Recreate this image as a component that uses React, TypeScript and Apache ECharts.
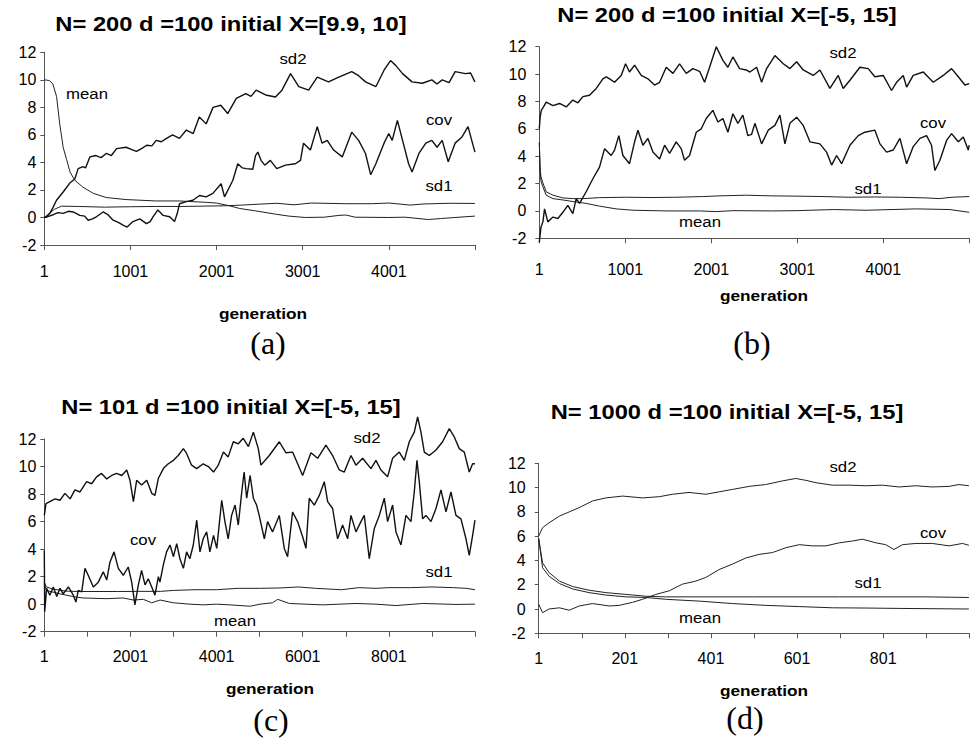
import React, { useEffect, useRef } from "react";
import * as echarts from "echarts";

type Pt = [number, number];

// ---------- Panel (a): N=200, X=[9.9,10], generations 1..5000 ----------
const aMean: Pt[] = [[1,10],[60,9.95],[100,9.7],[143,8.8],[180,6.8],[220,5.1],[260,4.2],[300,3.3],[355,2.7],[450,2.2],[570,1.75],[720,1.45],[950,1.3],[1300,1.2],[1570,1.2],[1880,1.1],[2000,1.05],[2150,0.85],[2270,0.65],[2453,0.48],[2685,0.24],[2840,0.1],[3030,0],[3250,0.02],[3420,0.15],[3500,0.18],[3610,0.02],[4000,0],[4190,0.02],[4460,-0.15],[4600,-0.08],[4770,0],[5000,0.1]];
const aSd1: Pt[] = [[1,0],[60,0.3],[120,0.6],[200,0.82],[400,0.8],[700,0.75],[1000,0.78],[1300,0.8],[1600,0.8],[1900,0.83],[2100,0.85],[2300,0.9],[2500,0.97],[2700,1.03],[2900,0.92],[3100,1.05],[3500,1.0],[3800,1.0],[4000,1.05],[4250,0.9],[4400,0.98],[4700,1.03],[5000,1.02]];
const aSd2: Pt[] = [[1,0],[30,0.05],[66,0.3],[100,0.7],[143,1.25],[220,1.85],[297,2.5],[355,2.8],[394,3.55],[450,3.7],[480,3.6],[530,4.4],[600,4.5],[660,4.35],[720,4.65],[780,4.5],[840,5.0],[950,5.1],[1010,4.95],[1070,4.8],[1130,5.0],[1190,5.25],[1250,5.2],[1300,5.6],[1360,5.5],[1420,5.75],[1490,6.0],[1570,5.75],[1650,6.35],[1730,6.1],[1800,7.3],[1880,6.8],[1960,8.0],[2050,8.15],[2130,7.55],[2230,8.65],[2340,9.0],[2400,8.8],[2460,9.25],[2570,8.9],[2685,8.75],[2760,9.25],[2860,10.45],[2955,9.5],[3070,9.25],[3170,10.2],[3300,9.85],[3420,10.2],[3570,10.6],[3650,10.3],[3730,9.85],[3850,9.5],[3945,10.7],[4020,11.4],[4080,11.05],[4160,10.45],[4270,9.85],[4390,9.75],[4500,10.0],[4560,9.7],[4620,10.0],[4700,9.8],[4770,10.6],[4890,10.45],[4950,10.5],[5000,9.85]];
const aCov: Pt[] = [[1,0],[60,0.1],[104,0.2],[160,0.35],[220,0.3],[280,0.45],[336,0.4],[413,0.15],[470,0.1],[510,-0.2],[560,-0.1],[606,0.05],[684,0.4],[740,0.2],[800,-0.2],[860,-0.35],[915,-0.55],[962,-0.7],[1031,-0.3],[1110,-0.1],[1186,-0.45],[1230,-0.3],[1263,0.05],[1320,0.55],[1380,0.15],[1456,0.05],[1513,-0.3],[1545,0.3],[1571,1.0],[1649,1.15],[1726,1.25],[1803,1.6],[1880,1.5],[1958,1.75],[2054,2.45],[2093,1.5],[2190,2.7],[2247,3.9],[2300,3.6],[2344,3.55],[2421,3.5],[2453,4.5],[2480,4.75],[2517,4.15],[2560,3.8],[2625,4.15],[2700,3.55],[2800,3.8],[2915,3.9],[2975,4.15],[3010,5.4],[3090,4.9],[3170,6.6],[3225,5.4],[3285,5.6],[3360,4.9],[3460,4.4],[3570,6.2],[3650,5.6],[3730,4.65],[3790,3.1],[3850,3.9],[3945,5.4],[4000,6.1],[4040,5.6],[4100,7.05],[4160,5.6],[4230,3.9],[4270,3.3],[4350,4.65],[4430,5.4],[4500,5.6],[4560,5.1],[4620,5.6],[4690,4.05],[4770,5.4],[4850,5.85],[4920,6.6],[5000,4.75]];

// ---------- Panel (b): N=200, X=[-5,15], generations 1..5000 ----------
const bSd2: Pt[] = [[1,6.0],[10,6.8],[24,7.35],[50,7.6],[81,7.95],[160,7.7],[236,7.85],[314,7.6],[391,8.1],[450,7.9],[508,8.35],[585,8.45],[663,8.95],[740,9.65],[780,9.8],[818,9.65],[876,9.4],[953,9.9],[1004,10.75],[1050,10.15],[1109,10.65],[1186,9.9],[1264,9.65],[1341,9.2],[1400,9.4],[1477,10.5],[1555,10.05],[1632,10.75],[1710,10.05],[1787,10.4],[1865,10.2],[1923,9.4],[1981,10.5],[2059,12.0],[2136,11.0],[2194,10.5],[2252,11.25],[2330,10.4],[2407,10.3],[2450,10.15],[2528,10.5],[2586,9.4],[2644,10.4],[2741,11.35],[2838,10.75],[2915,10.4],[2993,10.9],[3070,10.3],[3186,9.9],[3264,10.3],[3380,8.95],[3477,9.9],[3535,8.95],[3613,9.55],[3729,10.5],[3826,10.4],[3903,9.8],[4000,9.9],[4097,8.8],[4155,9.4],[4233,9.9],[4272,9.05],[4349,9.9],[4466,10.15],[4582,9.4],[4698,9.9],[4795,10.4],[4873,9.8],[4950,9.2],[5000,9.3]];
const bCov: Pt[] = [[1,-2.3],[20,-1.2],[43,-0.8],[62,0.15],[100,-0.8],[160,-0.45],[217,-0.55],[275,-0.1],[333,0.4],[391,-0.2],[430,0.9],[469,0.55],[546,1.4],[624,2.35],[701,3.2],[760,4.55],[837,4.05],[876,4.45],[926,5.5],[973,4.05],[1050,3.45],[1109,5.05],[1148,5.9],[1206,4.8],[1264,5.3],[1322,4.3],[1400,3.8],[1458,4.8],[1516,4.2],[1593,5.05],[1651,4.55],[1690,3.7],[1748,4.05],[1826,5.75],[1884,6.0],[1942,6.75],[2019,7.35],[2078,6.5],[2136,6.75],[2194,5.75],[2252,7.1],[2310,6.4],[2368,7.0],[2426,5.5],[2470,5.6],[2508,6.4],[2586,4.9],[2663,5.9],[2741,6.25],[2799,7.0],[2857,4.9],[2915,6.4],[2993,6.85],[3070,6.25],[3148,5.05],[3264,4.9],[3341,4.3],[3400,3.35],[3458,4.05],[3516,3.45],[3613,4.8],[3710,5.5],[3787,5.75],[3903,5.9],[3962,4.9],[4039,4.3],[4117,4.45],[4194,5.3],[4272,3.45],[4349,4.7],[4427,5.3],[4504,5.5],[4562,4.8],[4601,2.95],[4659,3.7],[4737,5.15],[4795,5.65],[4873,5.05],[4931,5.4],[4989,4.45],[5000,4.8]];
const bSd1: Pt[] = [[1,5.0],[10,3.2],[20,2.5],[40,2.1],[81,1.4],[160,1.15],[275,0.95],[391,0.9],[508,0.9],[700,0.97],[1000,1.0],[1300,0.98],[1600,1.0],[1900,1.05],[2100,1.1],[2400,1.15],[2700,1.1],[3000,1.08],[3300,1.05],[3600,1.0],[3900,1.02],[4200,1.0],[4500,0.95],[4650,0.9],[4800,1.0],[5000,1.05]];
const bMean: Pt[] = [[1,5.0],[10,3.0],[20,2.2],[40,1.8],[81,1.15],[160,0.9],[275,0.8],[430,0.65],[546,0.55],[701,0.35],[895,0.15],[1090,0.05],[1477,0],[1865,0],[2059,-0.05],[2252,0.02],[2700,0],[3000,0.02],[3420,0.1],[3800,0.05],[4388,0.15],[4776,0.1],[5000,-0.1]];

// ---------- Panel (c): N=101, X=[-5,15], generations 1..10000 ----------
const cSd2: Pt[] = [[1,6.45],[40,7.3],[130,7.45],[250,7.65],[365,7.55],[480,8.05],[600,7.65],[712,8.3],[830,8.15],[985,8.9],[1100,8.75],[1215,9.25],[1330,9.5],[1450,9.1],[1565,9.35],[1680,9.5],[1800,9.35],[1915,9.75],[1990,9.0],[2070,7.45],[2145,9.0],[2260,8.65],[2380,9.0],[2495,8.05],[2570,7.9],[2650,9.15],[2765,9.85],[2880,10.2],[3000,10.45],[3110,10.8],[3230,11.3],[3305,10.95],[3420,10.1],[3540,9.85],[3690,10.2],[3810,10.0],[3930,9.6],[4040,10.1],[4160,11.05],[4270,10.7],[4390,11.8],[4505,11.65],[4620,12.05],[4740,11.45],[4855,12.5],[4970,11.3],[5030,10.1],[5225,10.8],[5457,11.8],[5612,11.0],[5766,11.05],[5999,9.35],[6192,11.0],[6347,10.6],[6540,11.55],[6695,10.8],[6850,9.75],[6966,9.6],[7121,10.8],[7237,10.1],[7392,10.6],[7585,9.85],[7701,10.45],[7817,9.75],[7972,9.25],[8088,10.6],[8243,11.05],[8359,10.45],[8475,11.8],[8591,12.5],[8669,13.6],[8746,12.5],[8824,11.05],[8940,10.8],[9095,11.2],[9249,11.8],[9404,12.75],[9520,12.15],[9636,11.3],[9752,11.05],[9868,9.6],[9946,10.2],[10000,10.2]];
const cCov: Pt[] = [[1,3.9],[10,-0.55],[55,1.15],[130,0.65],[210,1.25],[290,0.55],[365,1.15],[440,0.75],[560,1.25],[675,0.65],[735,0.15],[790,1.0],[870,0.9],[945,2.6],[1020,2.1],[1140,1.25],[1255,1.6],[1370,2.35],[1450,1.75],[1525,3.05],[1620,3.8],[1720,2.6],[1835,2.1],[1950,2.7],[2030,1.6],[2105,-0.05],[2185,1.4],[2260,2.45],[2340,1.4],[2415,1.85],[2495,1.25],[2570,0.65],[2650,2.0],[2685,1.6],[2765,2.85],[2840,3.8],[2920,4.3],[3000,3.45],[3075,4.4],[3150,3.3],[3230,2.6],[3305,3.8],[3380,3.3],[3460,4.3],[3540,6.1],[3615,3.8],[3690,4.75],[3770,5.25],[3845,3.8],[3930,5.0],[4005,4.05],[4120,7.55],[4195,6.0],[4270,4.75],[4350,6.45],[4430,7.2],[4505,5.75],[4585,8.15],[4640,9.6],[4700,7.7],[4780,9.35],[4855,7.7],[4930,7.2],[4990,6.45],[5110,4.75],[5185,6.0],[5300,5.25],[5457,6.45],[5573,4.05],[5650,3.45],[5766,6.7],[5882,6.0],[5999,4.9],[6076,4.05],[6153,7.7],[6270,7.2],[6386,7.9],[6502,8.9],[6580,7.45],[6695,6.95],[6811,4.75],[6927,5.75],[7044,4.75],[7121,6.45],[7237,5.25],[7353,6.0],[7430,6.45],[7546,3.3],[7663,5.5],[7779,6.45],[7895,7.7],[7972,6.0],[8088,7.2],[8166,5.25],[8282,4.3],[8398,6.45],[8514,6.0],[8591,8.15],[8653,10.45],[8707,8.9],[8785,6.2],[8862,6.45],[8979,6.0],[9095,6.95],[9211,8.3],[9327,6.7],[9443,8.15],[9559,6.45],[9675,6.2],[9791,4.75],[9868,3.55],[9946,5.0],[10000,6.1]];
const cSd1: Pt[] = [[1,1.6],[50,1.25],[200,1.1],[500,0.95],[800,0.92],[1200,0.92],[1700,0.92],[2200,0.93],[2700,0.93],[3000,1.0],[3500,1.05],[4000,1.05],[4500,1.15],[5000,1.15],[5500,1.18],[5900,1.25],[6300,1.15],[6900,1.05],[7300,1.2],[7700,1.15],[8000,1.2],[8500,1.2],[9000,1.25],[9500,1.2],[9800,1.15],[10000,1.05]];
const cMean: Pt[] = [[1,1.5],[50,1.0],[365,0.75],[675,0.55],[900,0.45],[1450,0.4],[1835,0.45],[2070,0.3],[2300,0.35],[2495,0.1],[2690,0.3],[3000,0.1],[3380,0],[3690,-0.05],[4000,0],[4310,-0.05],[4780,-0.15],[5010,0],[5300,0.1],[5420,0.35],[5690,0.05],[6460,-0.05],[7237,0.05],[7700,0],[8166,-0.1],[8785,0.05],[9559,-0.02],[10000,0]];

// ---------- Panel (d): N=1000, X=[-5,15], generations 1..1000 ----------
const dSd2: Pt[] = [[1,6.0],[10,6.7],[25,7.1],[49,7.65],[72,8.0],[95,8.35],[126,8.9],[157,9.15],[196,9.3],[242,9.15],[281,9.25],[312,9.45],[350,9.6],[389,9.45],[420,9.65],[451,9.85],[490,10.1],[528,10.25],[567,10.55],[598,10.75],[621,10.6],[645,10.4],[683,10.2],[722,10.2],[761,10.15],[799,10.2],[838,10.05],[877,10.15],[915,10.05],[954,10.1],[977,10.25],[1000,10.15]];
const dCov: Pt[] = [[1,0.4],[10,-0.3],[25,0],[49,0.1],[72,-0.1],[95,0.25],[126,0.45],[165,0.25],[188,0.3],[219,0.55],[242,0.8],[273,1.2],[304,1.5],[335,2.05],[366,2.3],[389,2.6],[420,3.25],[451,3.7],[482,4.2],[513,4.5],[544,4.65],[575,5.05],[606,5.3],[637,5.2],[668,5.2],[699,5.45],[730,5.6],[753,5.75],[784,5.45],[807,5.3],[826,4.9],[846,5.3],[877,5.4],[915,5.4],[954,5.2],[985,5.4],[1000,5.25]];
const dSd1: Pt[] = [[1,5.8],[10,3.8],[25,3.0],[49,2.3],[80,1.85],[118,1.55],[157,1.35],[204,1.2],[250,1.05],[296,1.0],[500,1.0],[700,1.0],[900,1.0],[960,0.97],[1000,0.95]];
const dMean: Pt[] = [[1,5.8],[10,3.4],[25,2.7],[49,2.1],[80,1.65],[118,1.35],[157,1.15],[204,1.0],[250,0.95],[296,0.8],[374,0.65],[451,0.45],[528,0.3],[606,0.2],[683,0.1],[761,0.08],[838,0.05],[1000,0]];

const titles = [
  "N= 200 d =100 initial X=[9.9, 10]",
  "N= 200 d =100 initial X=[-5, 15]",
  "N= 101 d =100 initial X=[-5, 15]",
  "N= 1000 d =100 initial X=[-5, 15]",
];
const panelLetters = ["(a)", "(b)", "(c)", "(d)"];
const xAxisName = "generation";
const seriesNames = ["mean", "sd1", "sd2", "cov"];
const yTicks = { min: -2, max: 12, step: 2 };
const xRanges = [
  { max: 5000, tick: 1000, label: 1000 },
  { max: 5000, tick: 1000, label: 1000 },
  { max: 10000, tick: 1000, label: 2000 },
  { max: 1000, tick: 100, label: 200 },
];
const panelData: Record<string, Pt[]>[] = [
  { mean: aMean, sd1: aSd1, sd2: aSd2, cov: aCov },
  { mean: bMean, sd1: bSd1, sd2: bSd2, cov: bCov },
  { mean: cMean, sd1: cSd1, sd2: cSd2, cov: cCov },
  { mean: dMean, sd1: dSd1, sd2: dSd2, cov: dCov },
];

// ---------- layout (pixels) ----------
const grids = [
  { left: 44.3, top: 52.3, width: 430.7, height: 192.7 },
  { left: 539.3, top: 46.7, width: 430, height: 191.6 },
  { left: 44.3, top: 439, width: 430.7, height: 192.7 },
  { left: 538.7, top: 463.3, width: 430.6, height: 170 },
];
const yLabelMargins = [8, 13, 8, 13];
const xLabelMargins = [18, 23, 17, 17];
const titlePos = [[231, 24], [727, 15], [231, 407], [727, 412]];
const genPos = [[263, 313], [764, 295], [270, 688], [764, 690]];
const letterPos = [[268, 343], [752, 343], [271, 720], [745, 718]];
const seriesLabelPos: Record<string, number[]>[] = [
  { mean: [87, 94], sd2: [293, 59], cov: [439, 120], sd1: [439, 186] },
  { mean: [700, 222], sd2: [843, 53], cov: [933, 123], sd1: [868, 189] },
  { mean: [235, 621], sd2: [367, 438], cov: [143, 540], sd1: [439, 572] },
  { mean: [700, 618], sd2: [843, 467], cov: [933, 533], sd1: [868, 583] },
];
const noisy: Record<string, boolean>[] = [
  { sd2: true, cov: true },
  { sd2: true, cov: true },
  { sd2: true, cov: true },
  {},
];

const SANS = "'Liberation Sans', Arial, Helvetica, sans-serif";
const SERIF = "'Liberation Serif', 'Times New Roman', serif";
const AXIS_COLOR = "#555";

function textEl(x: number, y: number, text: string, size: number, weight: string, family: string, scaleX: number) {
  return {
    type: "text",
    x,
    y,
    scaleX,
    silent: true,
    style: {
      text,
      x: 0,
      y: 0,
      fontSize: size,
      fontWeight: weight,
      fontFamily: family,
      fill: "#000",
      textAlign: "center",
      textVerticalAlign: "middle",
      align: "center",
      verticalAlign: "middle",
    },
  };
}

function buildOption() {
  const grid: any[] = [];
  const xAxis: any[] = [];
  const yAxis: any[] = [];
  const series: any[] = [];
  const graphic: any[] = [];

  for (let i = 0; i < 4; i++) {
    grid.push({ ...grids[i], containLabel: false });
    const r = xRanges[i];
    xAxis.push({
      type: "value",
      gridIndex: i,
      min: 0,
      max: r.max,
      interval: r.tick,
      axisLine: { show: true, onZero: false, lineStyle: { color: AXIS_COLOR, width: 1 } },
      axisTick: { show: true, length: 5, lineStyle: { color: AXIS_COLOR } },
      splitLine: { show: false },
      axisLabel: {
        margin: xLabelMargins[i],
        fontSize: 16,
        fontFamily: SANS,
        color: "#000",
        showMinLabel: true,
        showMaxLabel: true,
        formatter: (v: number) => (v % r.label === 0 && v < r.max ? String(v + 1) : ""),
      },
    });
    yAxis.push({
      type: "value",
      gridIndex: i,
      min: yTicks.min,
      max: yTicks.max,
      interval: yTicks.step,
      axisLine: { show: true, onZero: false, lineStyle: { color: AXIS_COLOR, width: 1 } },
      axisTick: { show: true, length: 4, lineStyle: { color: AXIS_COLOR } },
      splitLine: { show: false },
      axisLabel: { margin: yLabelMargins[i], fontSize: 16, fontFamily: SANS, color: "#000" },
    });
    for (const name of seriesNames) {
      const pts = panelData[i][name];
      const isNoisy = !!noisy[i][name];
      series.push({
        type: "line",
        name: `${titles[i]} ${name}`,
        xAxisIndex: i,
        yAxisIndex: i,
        data: pts.map(([g, v]) => [g - 1, v]),
        showSymbol: false,
        symbol: "none",
        clip: false,
        silent: true,
        lineStyle: { color: isNoisy ? "#111" : "#222", width: isNoisy ? 1.4 : 1 },
      });
      const lp = seriesLabelPos[i][name];
      graphic.push(textEl(lp[0], lp[1], name, 15, "normal", SANS, 1.12));
    }
    graphic.push(textEl(titlePos[i][0], titlePos[i][1], titles[i], 21, "bold", SANS, 1.13));
    graphic.push(textEl(genPos[i][0], genPos[i][1], xAxisName, 15, "bold", SANS, 1.15));
    graphic.push(textEl(letterPos[i][0], letterPos[i][1], panelLetters[i], 32, "normal", SERIF, 1));
  }

  return {
    animation: false,
    backgroundColor: "#fff",
    grid,
    xAxis,
    yAxis,
    series,
    graphic,
  };
}

export default function App() {
  const ref = useRef<HTMLDivElement>(null);
  useEffect(() => {
    if (!ref.current) return;
    const chart = echarts.init(ref.current, undefined, { renderer: "svg" });
    chart.setOption(buildOption() as any);
    return () => chart.dispose();
  }, []);
  return (
    <div
      ref={ref}
      style={{ position: "absolute", left: 0, top: 0, width: 978, height: 744, background: "#fff" }}
    />
  );
}
